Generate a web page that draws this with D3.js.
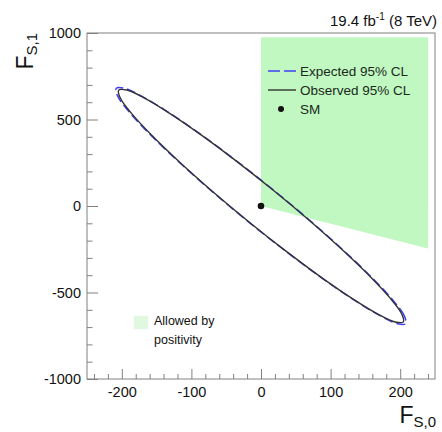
<!DOCTYPE html>
<html>
<head>
<meta charset="utf-8">
<script src="https://cdn.jsdelivr.net/npm/d3@7"></script>
<style>
  html, body { margin: 0; padding: 0; background: #fff; }
  svg { display: block; font-family: "Liberation Sans", Arial, Helvetica, sans-serif; }
</style>
</head>
<body>
<svg id="chart" width="442" height="432"></svg>
<script>
// ---- data ----
const xMajorTicks = [-200, -100, 0, 100, 200];
const yMajorTicks = [-1000, -500, 0, 500, 1000];
const xMinorTicks = [-240,-220,-180,-160,-140,-120,-80,-60,-40,-20,20,40,60,80,120,140,160,180,220,240];
const yMinorTicks = [-900,-800,-700,-600,-400,-300,-200,-100,100,200,300,400,600,700,800,900];

// observed 95% CL contour (F_S0, F_S1)
const observedContour = [
  [204.5,-670.0],[202.2,-624.1],[186.1,-535.6],[157.4,-410.7],[117.9,-257.7],[70.4,-87.1],
  [18.1,89.3],[-35.4,259.7],[-86.6,412.3],[-131.8,536.9],[-168.0,624.9],[-192.8,670.3],
  [-204.5,670.0],[-202.2,624.1],[-186.1,535.6],[-157.4,410.7],[-117.9,257.7],[-70.4,87.1],
  [-18.1,-89.3],[35.4,-259.7],[86.6,-412.3],[131.8,-536.9],[168.0,-624.9],[192.8,-670.3]
];
// expected 95% CL contour
const expectedContour = [
  [208.0,-680.0],[205.7,-633.5],[189.4,-543.9],[160.2,-417.2],[120.0,-262.1],[71.7,-89.1],
  [18.5,90.0],[-36.0,262.9],[-88.0,417.9],[-134.0,544.4],[-170.9,633.9],[-196.1,680.1],
  [-208.0,680.0],[-205.7,633.5],[-189.4,543.9],[-160.2,417.2],[-120.0,262.1],[-71.7,89.1],
  [-18.5,-90.0],[36.0,-262.9],[88.0,-417.9],[134.0,-544.4],[170.9,-633.9],[196.1,-680.1]
];
// region allowed by positivity
const positivityRegion = [[0, 0], [0, 975], [240, 975], [240, -245]];
// Standard Model point
const smPoint = [0, 0];

const legendEntries = ["Expected 95% CL", "Observed 95% CL", "SM"];

// ---- drawing ----
const svg = d3.select("#chart");
const x = d3.scaleLinear().domain([-250, 250]).range([87, 435]);
const y = d3.scaleLinear().domain([-1000, 1000]).range([379, 33]);

const green = "#c1f7c1";
const blue = "#3f3ff5";
const dark = "#333333";
const frameCol = "#808080";

// allowed region
svg.append("path")
  .attr("d", d3.line().x(d => x(d[0])).y(d => y(d[1]))(positivityRegion) + "Z")
  .attr("fill", green).attr("stroke", "none");

const contourLine = d3.line().x(d => x(d[0])).y(d => y(d[1])).curve(d3.curveCatmullRomClosed.alpha(0.5));

svg.append("path").attr("d", contourLine(expectedContour))
  .attr("fill", "none").attr("stroke", blue).attr("stroke-width", 1.5)
  .attr("stroke-dasharray", "9,4");
svg.append("path").attr("d", contourLine(observedContour))
  .attr("fill", "none").attr("stroke", dark).attr("stroke-width", 1.4);

svg.append("circle").attr("cx", x(smPoint[0])).attr("cy", y(smPoint[1])).attr("r", 3.3).attr("fill", "#111");

// frame
svg.append("rect").attr("x", 87).attr("y", 33).attr("width", 348).attr("height", 346)
  .attr("fill", "none").attr("stroke", frameCol).attr("stroke-width", 1);

// axes
const fmt = d => String(d);
function styleAxis(g) {
  g.select(".domain").remove();
  g.selectAll(".tick line").attr("stroke", frameCol);
  g.selectAll("text").attr("fill", "#111").style("font-size", "14.5px");
}
svg.append("g").attr("transform", "translate(87,0)")
  .call(d3.axisLeft(y).tickValues(yMajorTicks).tickSize(-11).tickPadding(6).tickFormat(fmt))
  .call(styleAxis);
svg.append("g").attr("transform", "translate(87,0)")
  .call(d3.axisLeft(y).tickValues(yMinorTicks).tickSize(-5.5).tickFormat(""))
  .call(styleAxis);
svg.append("g").attr("transform", "translate(0,379)")
  .call(d3.axisBottom(x).tickValues(xMajorTicks).tickSize(-10).tickPadding(8).tickFormat(fmt))
  .call(styleAxis);
svg.append("g").attr("transform", "translate(0,379)")
  .call(d3.axisBottom(x).tickValues(xMinorTicks).tickSize(-5).tickFormat(""))
  .call(styleAxis);

// axis titles
const xt = svg.append("text").attr("x", 436).attr("y", 423).attr("text-anchor", "end").attr("fill", "#111");
xt.append("tspan").text("F").style("font-size", "23px");
xt.append("tspan").text("S,0").style("font-size", "15px").attr("dy", 4);

const yt = svg.append("text").attr("transform", "translate(33,33) rotate(-90)").attr("text-anchor", "end").attr("fill", "#111");
yt.append("tspan").text("F").style("font-size", "23px");
yt.append("tspan").text("S,1").style("font-size", "15px").attr("dy", 4);

// top label
const tl = svg.append("text").attr("x", 437).attr("y", 26).attr("text-anchor", "end").attr("fill", "#111").style("font-size", "15px");
tl.append("tspan").text("19.4 fb");
tl.append("tspan").text("-1").style("font-size", "10px").attr("dy", -6);
tl.append("tspan").text(" (8 TeV)").attr("dy", 6);

// legend (upper right)
const lg = svg.append("g");
legendEntries.forEach((label, i) => {
  const ly = 71 + i * 19;
  if (i === 0) {
    lg.append("line").attr("x1", 268).attr("x2", 296).attr("y1", ly).attr("y2", ly)
      .attr("stroke", blue).attr("stroke-width", 1.5).attr("stroke-dasharray", "12,4");
  } else if (i === 1) {
    lg.append("line").attr("x1", 268).attr("x2", 296).attr("y1", ly).attr("y2", ly)
      .attr("stroke", dark).attr("stroke-width", 1.4);
  } else {
    lg.append("circle").attr("cx", 281).attr("cy", ly).attr("r", 3).attr("fill", "#111");
  }
  lg.append("text").attr("x", 300).attr("y", ly + 5).text(label)
    .attr("fill", "#1a2a1a").style("font-size", "13.5px");
});

// positivity legend
svg.append("rect").attr("x", 134).attr("y", 316).attr("width", 14).attr("height", 13)
  .attr("fill", "#e0f8e0").attr("stroke", "#e8f6e8").attr("stroke-width", 0.5);
svg.append("text").attr("x", 154).attr("y", 325).text("Allowed by").attr("fill", "#111").style("font-size", "12.5px");
svg.append("text").attr("x", 154).attr("y", 344).text("positivity").attr("fill", "#111").style("font-size", "12.5px");
</script>
</body>
</html>
